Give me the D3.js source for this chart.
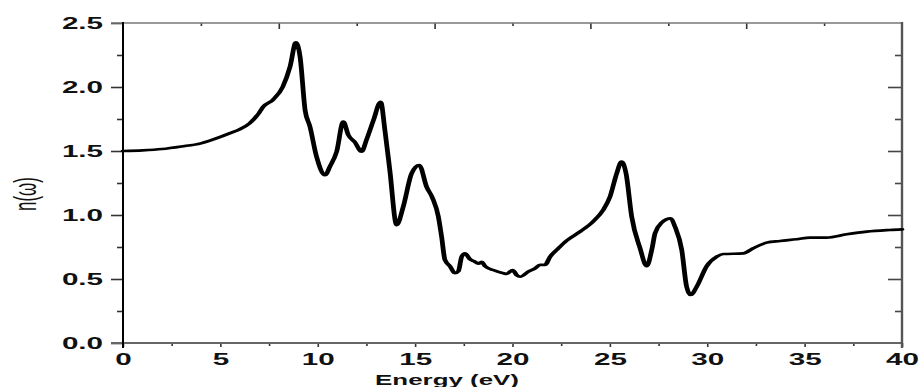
<!DOCTYPE html>
<html>
<head>
<meta charset="utf-8">
<script src="https://cdn.jsdelivr.net/npm/d3@7"></script>
<style>
  body { margin: 0; background: #fff; }
  svg { display: block; }
</style>
</head>
<body>
<div id="container"></div>
<script>
// Data: photon energy (eV) and refractive index n(w)
const energy = [
  0, 1, 2, 3, 4, 5, 5.5, 6, 6.5, 7.0, 7.2, 7.7, 8.2, 8.58, 8.88, 9.09, 9.35, 9.6, 9.94,
  10.37, 10.63, 10.97, 11.31, 11.57, 11.9, 12.25, 12.5, 12.86, 13.23, 13.45, 13.7, 14.05,
  14.39, 14.82, 15.21, 15.59, 15.9, 16.19, 16.36, 16.53, 16.79, 17.05, 17.22, 17.39, 17.56,
  17.82, 18.07, 18.24, 18.42, 18.59, 19.01, 19.53, 19.7, 20.01, 20.22, 20.39, 20.81, 21.16,
  21.41, 21.67, 21.93, 22.27, 22.78, 23.47, 24.15, 24.66, 25.0, 25.35, 25.6, 25.83, 26.12,
  26.55, 26.89, 27.15, 27.32, 27.66, 28.12, 28.34, 28.69, 28.94, 29.15, 29.46, 29.97, 30.49,
  30.82, 31.85, 32.36, 33.05, 33.74, 34.59, 35.28, 36.13, 37.16, 38.19, 39.38, 40
];
const nIndex = [
  1.50, 1.505, 1.515, 1.535, 1.56, 1.61, 1.64, 1.67, 1.716, 1.80, 1.846, 1.90, 2.0, 2.16, 2.35, 2.24, 1.82, 1.69, 1.455,
  1.31, 1.38, 1.495, 1.73, 1.625, 1.57, 1.495, 1.586, 1.74, 1.885, 1.66, 1.35, 0.92,
  1.065, 1.325, 1.39, 1.22, 1.13, 0.99, 0.83, 0.65, 0.60, 0.545, 0.56, 0.674, 0.70,
  0.654, 0.635, 0.62, 0.635, 0.60, 0.57, 0.545, 0.54, 0.57, 0.53, 0.518, 0.557, 0.583,
  0.61, 0.61, 0.674, 0.727, 0.80, 0.87, 0.95, 1.04, 1.14, 1.325, 1.417, 1.325, 0.987,
  0.74, 0.60, 0.727, 0.857, 0.94, 0.974, 0.91, 0.727, 0.44, 0.375, 0.44, 0.60, 0.674,
  0.695, 0.70, 0.74, 0.784, 0.797, 0.81, 0.823, 0.823, 0.849, 0.87, 0.883, 0.888
];

const xMajorTicks = [0, 5, 10, 15, 20, 25, 30, 35, 40];
const xMinorTicks = [2.5, 7.5, 12.5, 17.5, 22.5, 27.5, 32.5, 37.5];
const topMajorTicks = [8, 16, 24, 32];
const topMinorTicks = [4, 12, 20, 28, 36];
const yMajorTicks = [0, 0.5, 1.0, 1.5, 2.0, 2.5];
const yMinorTicks = [0.25, 0.75, 1.25, 1.75, 2.25];

const xTitle = "Energy (eV)";
const yTitle = "n(\u03c9)";

const width = 923;
const height = 387;
const marginLeft = 123;
const marginRight = 21;
const marginTop = 23;
const marginBottom = 44;
// the reference is stretched sideways, so text and the curve get squeezed back this much
const stretch = 1.85;
const font = "'Liberation Sans', Arial, sans-serif";

const x = d3.scaleLinear().domain([0, 40]).range([marginLeft, width - marginRight]);
const y = d3.scaleLinear().domain([0, 2.5]).range([height - marginBottom, marginTop]);

const svg = d3.create("svg")
    .attr("width", width)
    .attr("height", height)
    .attr("viewBox", [0, 0, width, height]);

function styleTicks(g, color) {
    g.select(".domain").remove();
    g.selectAll(".tick line").attr("stroke", color).attr("stroke-width", 1.6);
}

// left axis, labels squeezed sideways
svg.append("g")
    .attr("transform", `translate(${marginLeft},0)`)
    .call(d3.axisLeft(y).tickValues(yMajorTicks).tickSize(12).tickFormat(d3.format(".1f")))
    .call(g => styleTicks(g, "#333"))
    .call(g => g.selectAll("text")
        .attr("x", -20 / stretch)
        .attr("transform", `scale(${stretch},1)`)
        .attr("fill", "#111")
        .style("font", `bold 16px ${font}`));
svg.append("g")
    .attr("transform", `translate(${marginLeft},0)`)
    .call(d3.axisLeft(y).tickValues(yMinorTicks).tickSize(6).tickFormat(""))
    .call(g => styleTicks(g, "#333"));

// right axis, ticks inward
svg.append("g")
    .attr("transform", `translate(${width - marginRight},0)`)
    .call(d3.axisLeft(y).tickValues(yMajorTicks.slice(1, -1)).tickSize(14).tickFormat(""))
    .call(g => styleTicks(g, "#444"));
svg.append("g")
    .attr("transform", `translate(${width - marginRight},0)`)
    .call(d3.axisLeft(y).tickValues(yMinorTicks).tickSize(7).tickFormat(""))
    .call(g => styleTicks(g, "#444"));

// bottom axis
svg.append("g")
    .attr("transform", `translate(0,${height - marginBottom})`)
    .call(d3.axisBottom(x).tickValues(xMajorTicks).tickSize(4).tickPadding(7))
    .call(g => styleTicks(g, "#333"))
    .call(g => g.selectAll("text")
        .attr("x", 0)
        .attr("transform", `scale(${stretch},1)`)
        .attr("fill", "#111")
        .style("font", `bold 16px ${font}`));
svg.append("g")
    .attr("transform", `translate(0,${height - marginBottom})`)
    .call(d3.axisBottom(x).tickValues(xMinorTicks).tickSize(3).tickFormat(""))
    .call(g => styleTicks(g, "#333"));

// top axis, ticks inward
svg.append("g")
    .attr("transform", `translate(0,${marginTop})`)
    .call(d3.axisBottom(x).tickValues(topMajorTicks).tickSize(6).tickFormat(""))
    .call(g => styleTicks(g, "#333"));
svg.append("g")
    .attr("transform", `translate(0,${marginTop})`)
    .call(d3.axisBottom(x).tickValues(topMinorTicks).tickSize(3).tickFormat(""))
    .call(g => styleTicks(g, "#333"));

// frame
const frame = svg.append("g").attr("fill", "none");
frame.append("line")
    .attr("x1", x(0) - 12).attr("x2", x(40))
    .attr("y1", y(2.5)).attr("y2", y(2.5))
    .attr("stroke", "#777").attr("stroke-width", 1.6);
frame.append("line")
    .attr("x1", x(0) - 12).attr("x2", x(40))
    .attr("y1", y(0)).attr("y2", y(0))
    .attr("stroke", "#666").attr("stroke-width", 2);
frame.append("line")
    .attr("x1", x(40)).attr("x2", x(40))
    .attr("y1", y(2.5) - 1).attr("y2", y(0) + 5)
    .attr("stroke", "#555").attr("stroke-width", 2.4);
frame.append("line")
    .attr("x1", x(0)).attr("x2", x(0))
    .attr("y1", y(2.5) - 1).attr("y2", y(0) + 5)
    .attr("stroke", "#000").attr("stroke-width", 2);

// the curve, drawn in squeezed space so steep parts come out thicker like the reference
const points = energy.map((e, i) => [e, nIndex[i]]);
const line = d3.line()
    .x(d => x(d[0]) / stretch)
    .y(d => y(d[1]))
    .curve(d3.curveMonotoneX);
svg.append("g")
    .attr("transform", `scale(${stretch},1)`)
    .append("path")
    .datum(points)
    .attr("fill", "none")
    .attr("stroke", "#000")
    .attr("stroke-width", 2.6)
    .attr("stroke-linejoin", "round")
    .attr("stroke-linecap", "round")
    .attr("d", line);

// axis titles
svg.append("text")
    .attr("transform", `translate(447,385) scale(${stretch},1)`)
    .attr("text-anchor", "middle")
    .attr("fill", "#111")
    .style("font", `bold 14px ${font}`)
    .text(xTitle);

svg.append("text")
    .attr("transform", `translate(36,194) scale(${stretch},1) rotate(-90)`)
    .attr("text-anchor", "middle")
    .attr("fill", "#111")
    .style("font", `17px ${font}`)
    .text(yTitle);

d3.select("#container").append(() => svg.node());
</script>
</body>
</html>
